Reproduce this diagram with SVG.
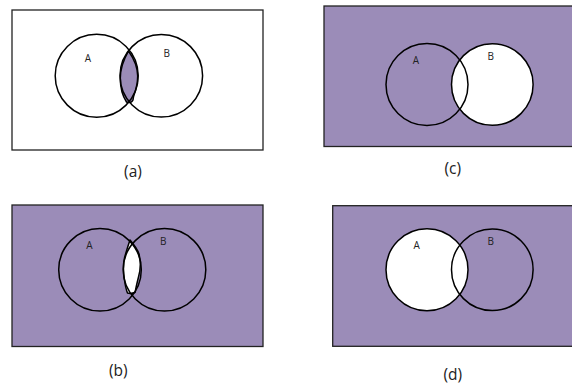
<svg xmlns="http://www.w3.org/2000/svg" width="572" height="388" viewBox="0 0 572 388">
<style>
.frame{stroke:#222;stroke-width:1.3}
.white{fill:#fff}
.purple{fill:#9b8cb8}
.ring{fill:none;stroke:#000;stroke-width:1.5}
.blob{stroke:#000;stroke-width:1.5;stroke-linejoin:round}
.lbl{font-family:"Open Sans","Liberation Sans",sans-serif;font-size:10px;fill:#222;text-anchor:middle}
.cap{font-family:"Open Sans","Liberation Sans",sans-serif;font-size:15.5px;fill:#222;text-anchor:middle}
</style>
<rect width="572" height="388" fill="#fff"/>
<g id="panel-a">
  <rect class="frame white" x="12" y="10" width="251" height="140"/>
  <path class="blob purple" d="M128.5,51 C124,59 120.3,68 120.3,78 C120.3,88 122.5,96 126.5,102 C129,102.8 132,102.3 133,100 C133,96 135,93 136.2,88 C138.3,80 138.3,72 135.5,64 C133.5,58.5 131,54.5 128.5,51 Z"/>
  <circle class="ring" cx="96.7" cy="75.8" r="41.5"/>
  <circle class="ring" cx="161.3" cy="75.8" r="41.3"/>
  <text class="lbl" x="88" y="62.3">A</text>
  <text class="lbl" x="166.7" y="57.3">B</text>
  <text class="cap" x="133" y="176.5">(a)</text>
</g>
<g id="panel-c">
  <rect class="frame purple" x="324" y="6" width="252" height="140.5"/>
  <circle class="white" cx="492.3" cy="84.5" r="40.8"/>
  <circle class="ring" cx="427" cy="84.5" r="41"/>
  <circle class="ring" cx="492.3" cy="84.5" r="40.8"/>
  <text class="lbl" x="416" y="64">A</text>
  <text class="lbl" x="490.7" y="60">B</text>
  <text class="cap" x="452.7" y="173.5">(c)</text>
</g>
<g id="panel-b">
  <rect class="frame purple" x="12" y="205" width="251" height="141.5"/>
  <path class="blob white" d="M130,240 C128,246 126,252 124.5,258 C123,265 123.3,273 124.5,280 C125.3,286 126.3,290 127.5,293 C130,293.8 133,293.2 135.2,292.2 C135.8,288 137,283 138.5,277 C140.5,270 141,262 139,254 C137,248 133.5,244 130,240 Z"/>
  <circle class="ring" cx="100" cy="269.8" r="41.3"/>
  <circle class="ring" cx="164.5" cy="269.8" r="41.3"/>
  <text class="lbl" x="89.3" y="249.3">A</text>
  <text class="lbl" x="163.3" y="245">B</text>
  <text class="cap" x="118.3" y="376">(b)</text>
</g>
<g id="panel-d">
  <rect class="frame purple" x="332.7" y="205.7" width="243" height="140.6"/>
  <circle class="white" cx="427" cy="269.8" r="41"/>
  <circle class="ring" cx="427" cy="269.8" r="41"/>
  <circle class="ring" cx="492.3" cy="269.8" r="40.8"/>
  <text class="lbl" x="416.7" y="249.3">A</text>
  <text class="lbl" x="490.7" y="245">B</text>
  <text class="cap" x="452.7" y="379.5">(d)</text>
</g>
<g id="connectors"></g>
</svg>
